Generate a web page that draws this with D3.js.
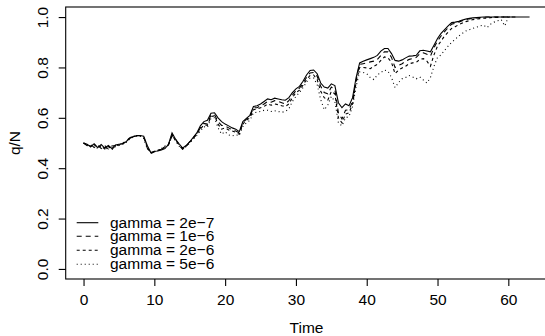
<!DOCTYPE html>
<html><head><meta charset="utf-8">
<script src="https://cdn.jsdelivr.net/npm/d3@7"></script>
<style>
body{margin:0;background:#fff}
svg{display:block}
text{font-family:"Liberation Sans",Arial,Helvetica,sans-serif;fill:#000}
</style>
</head><body><svg id="c" width="545" height="336"></svg>
<script>
const time = [0,0.5,1,1.5,2,2.5,3,3.5,4,4.5,5,5.5,6,6.5,7,7.5,8,8.5,9,9.5,10,10.5,11,11.5,12,12.5,13,13.5,14,14.5,15,15.5,16,16.5,17,17.5,18,18.5,19,19.5,20,20.5,21,21.5,22,22.5,23,23.5,24,24.5,25,25.5,26,26.5,27,27.5,28,28.5,29,29.5,30,30.5,31,31.5,32,32.5,33,33.5,34,34.5,35,35.5,36,36.5,37,37.5,38,38.5,39,39.5,40,40.5,41,41.5,42,42.5,43,43.5,44,44.5,45,45.5,46,46.5,47,47.5,48,48.5,49,49.5,50,50.5,51,51.5,52,52.5,53,53.5,54,54.5,55,55.5,56,56.5,57,57.5,58,58.5,59,59.5,60,60.5,61,61.5,62,62.5,63];

const gamma2e7 = [0.500,0.495,0.485,0.497,0.482,0.494,0.480,0.490,0.478,0.492,
0.495,0.497,0.505,0.518,0.525,0.528,0.530,0.527,0.490,0.462,
0.467,0.468,0.472,0.478,0.495,0.540,0.515,0.497,0.480,0.490,
0.505,0.522,0.540,0.568,0.585,0.590,0.618,0.620,0.600,0.585,
0.575,0.568,0.560,0.555,0.545,0.585,0.598,0.610,0.645,0.648,
0.655,0.665,0.675,0.672,0.678,0.675,0.672,0.670,0.680,0.700,
0.715,0.725,0.745,0.770,0.788,0.790,0.775,0.738,0.722,0.718,
0.735,0.728,0.660,0.640,0.655,0.648,0.680,0.760,0.818,0.825,
0.830,0.835,0.840,0.848,0.865,0.875,0.875,0.855,0.828,0.825,
0.830,0.838,0.845,0.846,0.848,0.866,0.868,0.865,0.862,0.888,
0.915,0.935,0.950,0.965,0.978,0.980,0.983,0.988,0.992,0.995,
0.997,0.998,0.999,1,1,1,1,1,1,1,
1,1,1,1,1,1,1];

const gamma1e6 = [0.500,0.490,0.495,0.482,0.492,0.478,0.490,0.476,0.488,0.490,
0.494,0.498,0.508,0.520,0.527,0.530,0.530,0.525,0.480,0.458,
0.465,0.470,0.475,0.482,0.492,0.532,0.515,0.490,0.475,0.488,
0.505,0.520,0.538,0.560,0.578,0.575,0.612,0.612,0.585,0.570,
0.568,0.560,0.552,0.548,0.540,0.580,0.595,0.605,0.640,0.640,
0.648,0.655,0.665,0.662,0.668,0.665,0.660,0.655,0.668,0.690,
0.708,0.718,0.738,0.760,0.778,0.780,0.765,0.725,0.700,0.695,
0.722,0.712,0.620,0.595,0.630,0.632,0.665,0.750,0.812,0.815,
0.818,0.822,0.825,0.832,0.848,0.862,0.862,0.840,0.800,0.808,
0.815,0.825,0.832,0.835,0.840,0.855,0.858,0.852,0.845,0.878,
0.905,0.925,0.942,0.958,0.972,0.975,0.980,0.985,0.990,0.993,
0.995,0.997,0.998,0.999,1,1,1,1,1,1,
1,1,1,null,null,null,null];

const gamma2e6 = [0.500,0.492,0.488,0.495,0.480,0.490,0.476,0.487,0.475,0.488,
0.492,0.496,0.505,0.518,0.526,0.530,0.529,0.522,0.485,0.460,
0.466,0.470,0.476,0.485,0.494,0.528,0.512,0.492,0.478,0.488,
0.503,0.518,0.535,0.555,0.572,0.570,0.605,0.608,0.575,0.555,
0.560,0.552,0.548,0.542,0.535,0.575,0.590,0.600,0.632,0.635,
0.640,0.645,0.655,0.650,0.655,0.652,0.648,0.645,0.655,0.680,
0.700,0.710,0.730,0.752,0.768,0.770,0.752,0.705,0.680,0.670,
0.705,0.695,0.600,0.580,0.615,0.620,0.655,0.740,0.800,0.800,
0.798,0.795,0.805,0.812,0.828,0.842,0.838,0.820,0.775,0.790,
0.798,0.805,0.815,0.818,0.820,0.832,0.835,0.825,0.805,0.850,
0.885,0.905,0.925,0.940,0.955,0.962,0.970,0.976,0.982,0.986,
0.990,0.992,0.994,0.996,0.995,0.998,0.999,0.999,1,1,
1,1,null,null,null,null,null];

const gamma5e6 = [0.500,0.490,0.485,0.493,0.478,0.488,0.474,0.485,0.473,0.486,
0.490,0.494,0.502,0.515,0.523,0.528,0.527,0.518,0.478,0.462,
0.466,0.472,0.478,0.488,0.496,0.525,0.508,0.488,0.476,0.486,
0.500,0.515,0.530,0.548,0.565,0.562,0.598,0.600,0.560,0.535,
0.545,0.532,0.528,0.532,0.530,0.565,0.580,0.590,0.620,0.622,
0.625,0.630,0.630,0.625,0.628,0.625,0.622,0.625,0.635,0.665,
0.685,0.700,0.720,0.742,0.758,0.758,0.732,0.672,0.632,0.650,
0.685,0.665,0.580,0.568,0.600,0.605,0.645,0.725,0.782,0.780,
0.775,0.760,0.752,0.770,0.780,0.790,0.785,0.760,0.720,0.740,
0.755,0.760,0.768,0.762,0.755,0.762,0.750,0.738,0.760,0.805,
0.840,0.850,0.868,0.885,0.900,0.912,0.925,0.935,0.945,0.950,
0.955,0.960,0.965,0.968,0.958,0.972,0.980,0.985,0.990,0.965,
1,null,null,null,null,null,null];

const seriesNames = ["gamma = 2e\u22127","gamma = 1e\u22126","gamma = 2e\u22126","gamma = 5e\u22126"];
const xTicks = [0,10,20,30,40,50,60];
const yTicks = [0,0.2,0.4,0.6,0.8,1.0];
const yTickLabels = ["0.0","0.2","0.4","0.6","0.8","1.0"];
const xTitle = "Time";
const yTitle = "q/N";

const series = [gamma2e7, gamma1e6, gamma2e6, gamma5e6];
const dashes = [null, "5,4", "3,3", "1,3"];

const svg = d3.select("#c");
const x = d3.scaleLinear().domain([-2.52, 65.52]).range([65.7, 547.4]);
const y = d3.scaleLinear().domain([-0.04, 1.04]).range([279, 7]);
const FS = 15.5;

// lines
const line = d3.line().defined(d => d[1] != null).x(d => x(d[0])).y(d => y(d[1]));
series.forEach((s, i) => {
  svg.append("path")
    .datum(time.map((t, k) => [t, s[k]]))
    .attr("d", line)
    .attr("fill", "none")
    .attr("stroke", "#000")
    .attr("stroke-width", 1.1)
    .attr("stroke-dasharray", dashes[i]);
});

// box
svg.append("rect").attr("x", 65.7).attr("y", 7).attr("width", 547.4 - 65.7).attr("height", 272)
  .attr("fill", "none").attr("stroke", "#000").attr("stroke-width", 1.1);

// x axis
const gx = svg.append("g").attr("transform", "translate(0,279)")
  .call(d3.axisBottom(x).tickValues(xTicks).tickSize(7).tickSizeOuter(0).tickPadding(8));
gx.select(".domain").remove();
gx.selectAll("line").attr("stroke", "#000").attr("stroke-width", 1.1);
gx.selectAll("text").attr("font-size", FS).attr("font-family", "Liberation Sans, Arial, sans-serif").attr("fill", "#000");

// y axis
const gy = svg.append("g").attr("transform", "translate(65.7,0)")
  .call(d3.axisLeft(y).tickValues(yTicks).tickSize(7).tickSizeOuter(0).tickFormat((d, i) => yTickLabels[i]));
gy.select(".domain").remove();
gy.selectAll("line").attr("stroke", "#000").attr("stroke-width", 1.1);
gy.selectAll("text")
  .attr("x", null).attr("dy", null)
  .attr("text-anchor", "middle")
  .attr("transform", "translate(-17.4,0) rotate(-90)")
  .attr("font-size", FS).attr("font-family", "Liberation Sans, Arial, sans-serif").attr("fill", "#000");

// axis titles
svg.append("text").attr("x", x(31.5)).attr("y", 333).attr("text-anchor", "middle")
  .attr("font-size", FS).text(xTitle);
svg.append("text").attr("transform", `translate(20,${y(0.5)}) rotate(-90)`).attr("text-anchor", "middle")
  .attr("font-size", FS).text(yTitle);

// legend
const legRows = [222.7, 236.2, 250.2, 264.3];
const lg = svg.append("g");
seriesNames.forEach((name, i) => {
  lg.append("line").attr("x1", 76.7).attr("x2", 98.3).attr("y1", legRows[i]).attr("y2", legRows[i])
    .attr("stroke", "#000").attr("stroke-width", 1.1).attr("stroke-dasharray", dashes[i]);
  lg.append("text").attr("x", 110).attr("y", legRows[i] + 5).attr("font-size", FS).text(name);
});
</script>
</body></html>
